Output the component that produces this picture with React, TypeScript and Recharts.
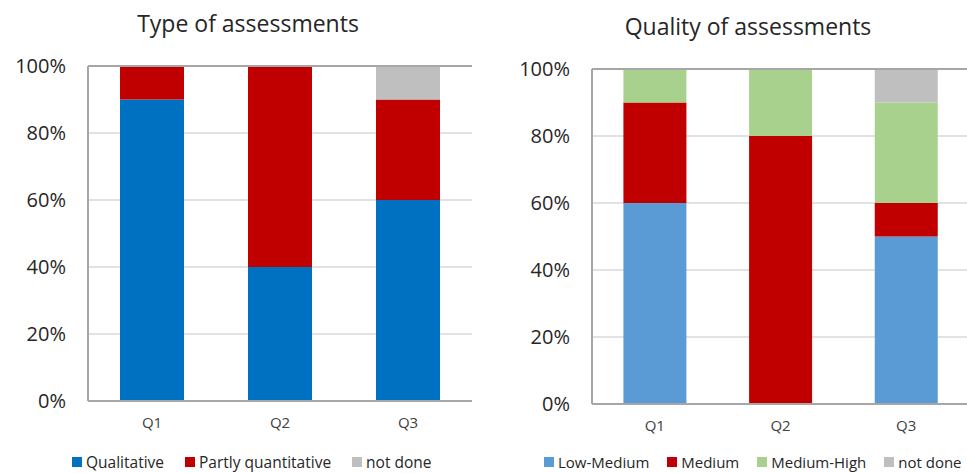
import { BarChart, Bar, XAxis, YAxis, CartesianGrid, ReferenceLine } from 'recharts';

// quarters shared by both panels
const quarters = ['Q1', 'Q2', 'Q3'];

// Type of assessments (% of assessments)
const qualitative = [90, 40, 60];
const partlyQuantitative = [10, 60, 30];
const typeNotDone = [0, 0, 10];

// Quality of assessments (% of assessments)
const lowMedium = [60, 0, 50];
const medium = [30, 80, 10];
const mediumHigh = [10, 20, 30];
const qualityNotDone = [0, 0, 10];

const yTicks = [0, 20, 40, 60, 80, 100];

const FONT = '"Open Sans", sans-serif';
const GRID = '#D9D9D9';
const BORDER = '#A6A6A6';

type Series = { key: string; name: string; color: string; values: number[] };

const typeSeries: Series[] = [
  { key: 'qualitative', name: 'Qualitative', color: '#0070C0', values: qualitative },
  { key: 'partly', name: 'Partly quantitative', color: '#C00000', values: partlyQuantitative },
  { key: 'notDone', name: 'not done', color: '#BFBFBF', values: typeNotDone },
];

const qualitySeries: Series[] = [
  { key: 'lowMedium', name: 'Low-Medium', color: '#5B9BD5', values: lowMedium },
  { key: 'medium', name: 'Medium', color: '#C00000', values: medium },
  { key: 'mediumHigh', name: 'Medium-High', color: '#A9D18E', values: mediumHigh },
  { key: 'notDone', name: 'not done', color: '#BFBFBF', values: qualityNotDone },
];

const toRows = (series: Series[]) =>
  quarters.map((q, i) => {
    const row: Record<string, string | number> = { quarter: q };
    series.forEach((s) => (row[s.key] = s.values[i]));
    return row;
  });

type PanelProps = {
  title: string;
  series: Series[];
  left: number;
  width: number;
  yWidth: number;
  top: number;
  bottom: number;
  rightMargin: number;
  titleTop: number;
  titleCenter: number;
  legendLeft: number;
  legendTop: number;
  legendSize: number;
  legendGap: number;
};

function Panel(p: PanelProps) {
  const data = toRows(p.series);
  return (
    <>
      <div
        style={{
          position: 'absolute',
          top: p.titleTop,
          left: p.titleCenter - 200,
          width: 400,
          textAlign: 'center',
          fontFamily: FONT,
          fontSize: 23,
          color: '#262626',
          lineHeight: '30px',
        }}
      >
        {p.title}
      </div>
      <div style={{ position: 'absolute', left: p.left, top: 0 }}>
        <BarChart
          width={p.width}
          height={473}
          data={data}
          barCategoryGap="25%"
          margin={{ top: p.top, right: p.rightMargin, left: 0, bottom: 473 - p.bottom - 30 }}
        >
          <CartesianGrid vertical={false} stroke={GRID} strokeWidth={1.5} />
          <XAxis
            dataKey="quarter"
            height={30}
            tickLine={false}
            tickMargin={10}
            axisLine={{ stroke: BORDER, strokeWidth: 2 }}
            tick={{ fill: '#404040', fontSize: 15, fontFamily: FONT }}
          />
          <YAxis
            width={p.yWidth}
            domain={[0, 100]}
            ticks={yTicks}
            tickFormatter={(v) => `${v}%`}
            tickLine={false}
            tickMargin={16}
            axisLine={{ stroke: BORDER, strokeWidth: 2 }}
            tick={{ fill: '#262626', fontSize: 20, fontFamily: FONT }}
          />
          {/* right edge of the plot frame */}
          <YAxis
            yAxisId="frame"
            orientation="right"
            width={0}
            domain={[0, 100]}
            tick={false}
            tickLine={false}
            axisLine={{ stroke: BORDER, strokeWidth: 2 }}
          />
          <ReferenceLine y={100} stroke={BORDER} strokeWidth={2} />
          {p.series.map((s) => (
            <Bar key={s.key} dataKey={s.key} name={s.name} stackId="a" fill={s.color} isAnimationActive={false} />
          ))}
        </BarChart>
      </div>
      <div
        style={{
          position: 'absolute',
          left: p.legendLeft,
          top: p.legendTop,
          display: 'flex',
          alignItems: 'center',
          fontFamily: FONT,
          fontSize: p.legendSize,
          color: '#262626',
          whiteSpace: 'nowrap',
          lineHeight: '18px',
        }}
      >
        {p.series.map((s) => (
          <span key={s.key} style={{ display: 'flex', alignItems: 'center', marginRight: p.legendGap }}>
            <span style={{ width: 10, height: 10, background: s.color, marginRight: 4 }} />
            {s.name}
          </span>
        ))}
      </div>
    </>
  );
}

export default function App() {
  return (
    <div
      style={{
        position: 'absolute',
        left: 0,
        top: 0,
        width: 967,
        height: 473,
        overflow: 'hidden',
        background: '#fff',
      }}
    >
      <Panel
        title="Type of assessments"
        series={typeSeries}
        left={0}
        width={480}
        yWidth={88}
        top={66}
        bottom={401}
        rightMargin={8}
        titleTop={8}
        titleCenter={248}
        legendLeft={72}
        legendTop={453}
        legendSize={15.5}
        legendGap={21}
      />
      <Panel
        title="Quality of assessments"
        series={qualitySeries}
        left={490}
        width={490}
        yWidth={102}
        top={69}
        bottom={404}
        rightMargin={11}
        titleTop={11}
        titleCenter={748}
        legendLeft={544}
        legendTop={453}
        legendSize={15}
        legendGap={18}
      />
    </div>
  );
}
